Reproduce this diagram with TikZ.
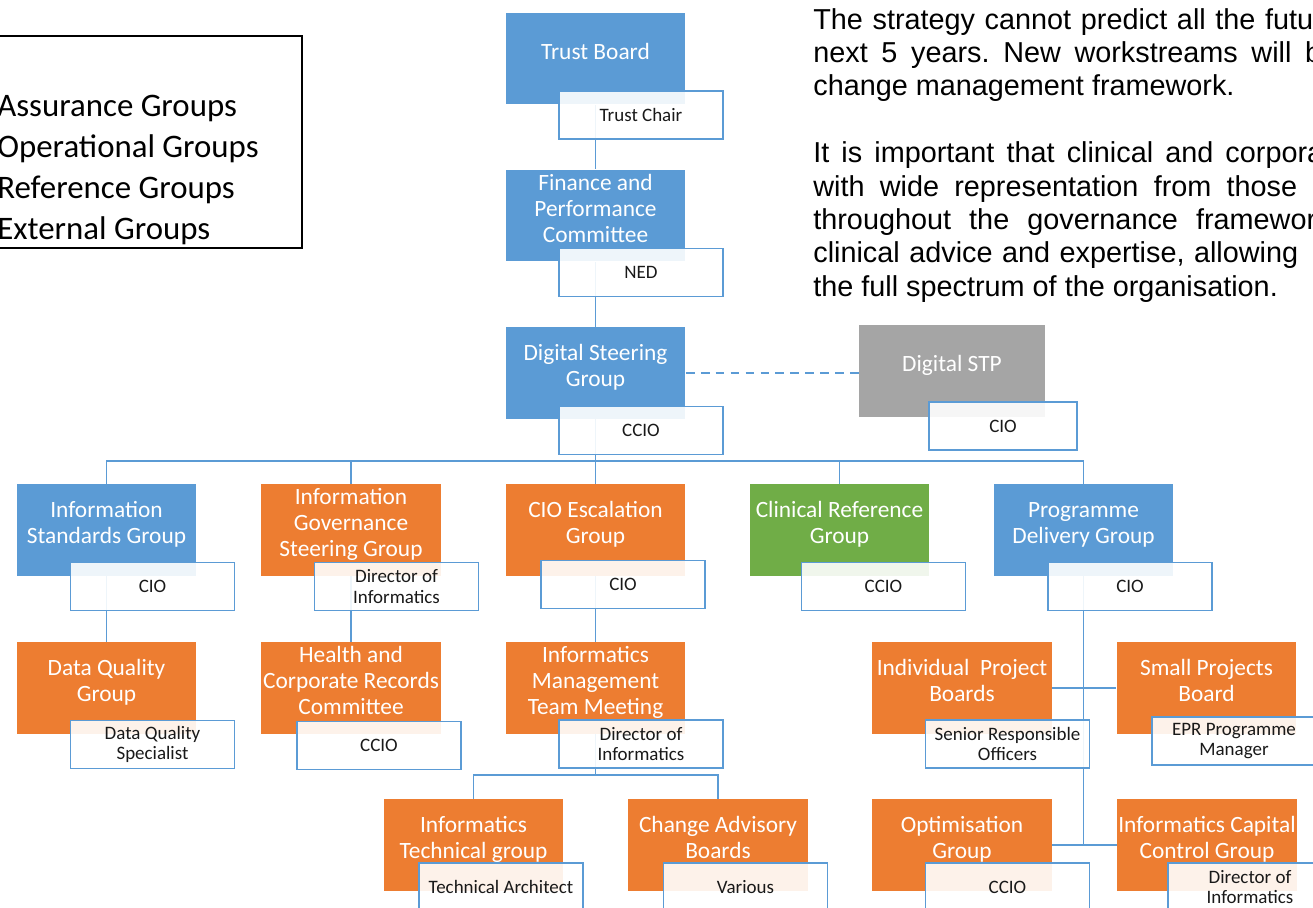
\documentclass[tikz,border=0pt]{standalone}
\usepackage{fontspec}
\setmainfont{Carlito}
\newfontfamily\arialfont{Liberation Sans}
\usetikzlibrary{positioning,backgrounds}
\frenchspacing

\definecolor{assureblue}{HTML}{5B9BD5}
\definecolor{operorange}{HTML}{ED7D31}
\definecolor{refgreen}{HTML}{70AD47}
\definecolor{extgrey}{HTML}{A5A5A5}
\definecolor{linkblue}{HTML}{5B9BD5}

\newcommand{\grpfont}{\fontsize{13.3}{14.7}\selectfont}
\newcommand{\rolefont}{\fontsize{10.8}{11.8}\selectfont}
\newcommand{\keyfont}{\fontsize{18.7}{23.2}\selectfont}
\newcommand{\notefont}{\arialfont\fontsize{16.4}{18.9}\selectfont}
% group name, lifted a little above the box centre
\newcommand{\gname}[1]{\raisebox{0pt}[\height][\dimexpr\depth+5pt\relax]{\begin{tabular}{@{}c@{}}#1\end{tabular}}}

\tikzset{
  grp/.style={rectangle, fill=#1, text=white, font=\grpfont, inner sep=0pt,
    minimum width=3.6cm, minimum height=1.84cm},
  role/.style={rectangle, draw=linkblue, line width=1.1pt, fill=white,
    fill opacity=0.9, text opacity=1, text=black!90, font=\rolefont,
    align=center, inner sep=0pt, minimum width=3.28cm, minimum height=0.96cm},
  link/.style={draw=linkblue, line width=1.1pt},
  keytext/.style={font=\keyfont, anchor=base west, inner sep=0pt},
  noteline/.style={font=\notefont, anchor=base west, inner sep=0pt}
}

\begin{document}
\begin{tikzpicture}[x=0.02cm, y=-0.02cm]
    \useasboundingbox (0,0) rectangle (1313,907);
    \clip (0,0) rectangle (1313,907);

    % Key
    \draw[line width=0.8pt] (-20,36) rectangle (302,248);
    \foreach \txt [count=\i] in {Assurance Groups, Operational Groups, Reference Groups, External Groups}
        \node[keytext] (key\i) at (-3,{75+41*\i}) {\txt};

    % Strategy note
    \foreach \y/\w/\txt [count=\i] in {29/10cm/The strategy cannot predict all the futu,
        62.4/10.16cm/next 5 years. New workstreams will b,
        95.8/\width/change management framework.,
        162.6/10.2cm/It is important that clinical and corpora,
        196/9.68cm/with wide representation from those,
        229.4/10.06cm/throughout the governance framewor,
        262.8/9.7cm/{clinical advice and expertise, allowing},
        296.2/\width/the full spectrum of the organisation.}
        \node[noteline] (note\i) at (813,\y) {\makebox[\w][s]{\txt}};

    % Board level
    \node[grp=assureblue] (tb) at (595.5,58.5) {\gname{Trust Board}};
    \node[role] (tbrole) at (641,115) {Trust Chair};
    \node[grp=assureblue] (fpc) at (595.5,215.5) {\gname{Finance and\\Performance\\Committee}};
    \node[role] (fpcrole) at (641,272.5) {NED};
    \node[grp=assureblue] (dsg) at (595.5,373) {\gname{Digital Steering\\Group}};
    \node[role] (dsgrole) at (641,430.5) {CCIO};
    \node[grp=extgrey, minimum width=3.72cm] (stp) at (952,371) {\gname{Digital STP}};
    \node[role, minimum width=2.96cm] (stprole) at (1003,426) {CIO};

    % Second row
    \node[grp=assureblue] (isg) at (106.5,530) {\gname{Information\\Standards Group}};
    \node[role] (isgrole) at (152.5,586.5) {CIO};
    \node[grp=operorange] (igsg) at (351,530) {\gname{Information\\Governance\\Steering Group}};
    \node[role] (igsgrole) at (396.5,586.5) {Director of\\Informatics};
    \node[grp=operorange] (cioe) at (595.5,530) {\gname{CIO Escalation\\Group}};
    \node[role] (cioerole) at (623,584.5) {CIO};
    \node[grp=refgreen] (crg) at (839.5,530) {\gname{Clinical Reference\\Group}};
    \node[role] (crgrole) at (883.5,586.5) {CCIO};
    \node[grp=assureblue] (pdg) at (1083.5,530) {\gname{Programme\\Delivery Group}};
    \node[role] (pdgrole) at (1130,586.5) {CIO};

    % Third row
    \node[grp=operorange] (dqg) at (106.5,688) {\gname{Data Quality\\Group}};
    \node[role] (dqgrole) at (152.5,744.5) {Data Quality\\Specialist};
    \node[grp=operorange] (hcrc) at (351,688) {\gname{Health and\\Corporate Records\\Committee}};
    \node[role] (hcrcrole) at (379,745.5) {CCIO};
    \node[grp=operorange] (imtm) at (595.5,688) {\gname{Informatics\\Management\\Team Meeting}};
    \node[role] (imtmrole) at (641,744) {Director of\\Informatics};
    \node[grp=operorange] (ipb) at (962,688) {\gname{Individual~ Project\\Boards}};
    \node[role] (ipbrole) at (1007.5,744) {Senior Responsible\\Officers};
    \node[grp=operorange] (spb) at (1206.5,688) {\gname{Small Projects\\Board}};
    \node[role] (spbrole) at (1234,741) {EPR Programme\\Manager};

    % Bottom row
    \node[grp=operorange] (itg) at (473.5,845) {\gname{Informatics\\Technical group}};
    \node[role] (itgrole) at (501,887) {Technical Architect};
    \node[grp=operorange] (cab) at (718,845) {\gname{Change Advisory\\Boards}};
    \node[role] (cabrole) at (745.5,887) {Various};
    \node[grp=operorange] (og) at (962,845) {\gname{Optimisation\\Group}};
    \node[role] (ogrole) at (1007.5,887) {CCIO};
    \node[grp=operorange] (iccg) at (1207,845) {\gname{Informatics Capital\\Control Group}};
    \node[role] (iccgrole) at (1250,887) {Director of\\Informatics};

    % Connectors
    \begin{scope}[on background layer]
        \coordinate (bus) at (595.5,461);
        \coordinate (imsplit) at (595.5,775);
        \coordinate (pdend) at (1083.5,845);
        \draw[link] (tb) -- (fpc);
        \draw[link] (fpc) -- (dsg);
        \draw[link, dash pattern=on 5pt off 3.5pt] (dsg.east) -- (dsg.east -| stp.west);
        \draw[link] (dsg) -- (bus) -- (cioe);
        \draw[link] (isg.north) |- (bus) -| (pdg.north);
        \draw[link] (igsg.north) |- (bus);
        \draw[link] (crg.north) |- (bus);
        \draw[link] (isg) -- (dqg);
        \draw[link] (igsg) -- (hcrc);
        \draw[link] (cioe) -- (imtm);
        \draw[link] (imtm) -- (imsplit);
        \draw[link] (itg.north) |- (imsplit) -| (cab.north);
        \draw[link] (pdg) -- (pdend);
        \draw[link] (ipb.east) -- (spb.west);
        \draw[link] (og.east) -- (iccg.west);
    \end{scope}
\end{tikzpicture}
\end{document}
